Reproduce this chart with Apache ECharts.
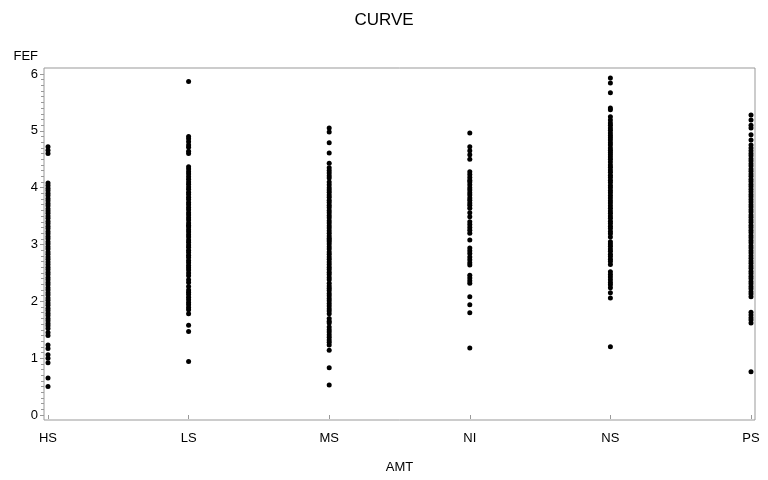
<!DOCTYPE html>
<html>
<head>
<meta charset="utf-8">
<script src="https://cdn.jsdelivr.net/npm/echarts@6/dist/echarts.min.js"></script>
<style>
  html, body { margin: 0; padding: 0; background: #fff; }
  #chart { width: 768px; height: 480px; }
</style>
</head>
<body>
<div id="chart"></div>
<script>
// categories on the x axis (AMT)
const categories = ['HS', 'LS', 'MS', 'NI', 'NS', 'PS'];
const yTicks = [0, 1, 2, 3, 4, 5, 6];

// FEF values, one list per group
const fefHS = [4.72, 4.66, 4.6,
  4.08, 4.04, 3.99, 3.95, 3.9, 3.86, 3.81, 3.77, 3.72, 3.68, 3.63, 3.59, 3.55, 3.5, 3.46, 3.41,
  3.37, 3.32, 3.28, 3.23, 3.19, 3.14, 3.1, 3.05, 3.01, 2.96, 2.92, 2.87, 2.83, 2.78, 2.74, 2.69,
  2.65, 2.6, 2.56, 2.51, 2.47, 2.42, 2.38, 2.33, 2.29, 2.24, 2.2, 2.15, 2.11, 2.06, 2.02, 1.97,
  1.93, 1.88, 1.84, 1.79, 1.75, 1.7, 1.66, 1.61, 1.57, 1.52,
  1.45, 1.4, 1.23, 1.17, 1.06, 1.0, 0.92, 0.65, 0.5];

const fefLS = [5.87,
  4.9, 4.86, 4.81, 4.75, 4.71, 4.64, 4.6,
  4.37, 4.33, 4.28, 4.24, 4.19, 4.15, 4.1, 4.06, 4.01, 3.97, 3.92, 3.88, 3.83, 3.79, 3.74, 3.7,
  3.65, 3.61, 3.56, 3.52, 3.47, 3.43, 3.38, 3.34, 3.31,
  3.26, 3.22, 3.17, 3.13, 3.08, 3.04, 2.99, 2.95, 2.9, 2.86, 2.81, 2.77, 2.72, 2.68, 2.63, 2.59,
  2.55, 2.5, 2.45, 2.38, 2.33,
  2.26, 2.2, 2.16, 2.12, 2.07, 2.03, 1.98, 1.94, 1.89, 1.85, 1.78,
  1.58, 1.47, 0.94];

const fefMS = [5.05, 4.98, 4.79, 4.61, 4.43,
  4.35, 4.3, 4.26, 4.21, 4.17, 4.1, 4.05, 4.0,
  3.96, 3.92, 3.87, 3.83, 3.78, 3.74, 3.69, 3.65, 3.6, 3.56, 3.51, 3.47, 3.42, 3.38, 3.33, 3.29,
  3.24, 3.2, 3.15, 3.11, 3.08,
  3.05, 3.01, 2.96, 2.92, 2.87, 2.83, 2.78, 2.74, 2.69, 2.65, 2.6, 2.56, 2.51, 2.47, 2.42, 2.38,
  2.32, 2.27,
  2.23, 2.19, 2.14, 2.1, 2.05, 2.01, 1.96, 1.92, 1.87, 1.83, 1.78,
  1.7, 1.65, 1.62,
  1.55, 1.5, 1.46, 1.41, 1.37, 1.32, 1.28, 1.23,
  1.14, 0.83, 0.53];

const fefNI = [4.96, 4.72, 4.65, 4.58, 4.5,
  4.28, 4.23, 4.18, 4.13, 4.1, 4.05, 4.0, 3.96, 3.91, 3.87, 3.82, 3.78, 3.73, 3.69, 3.64,
  3.56, 3.49, 3.4, 3.35, 3.3, 3.25, 3.2, 3.08,
  2.94, 2.89, 2.84, 2.78, 2.73, 2.68, 2.64,
  2.46, 2.41, 2.36, 2.32, 2.08, 1.94, 1.8, 1.18];

const fefNS = [5.93, 5.84, 5.67, 5.4, 5.37, 5.25, 5.19,
  5.14, 5.1, 5.05, 5.01, 4.96, 4.92, 4.88, 4.84,
  4.79, 4.75, 4.7, 4.66, 4.62, 4.58, 4.54, 4.5, 4.45,
  4.4, 4.36, 4.31, 4.27, 4.22, 4.18, 4.13, 4.09, 4.04, 4.0, 3.95, 3.91, 3.86, 3.82, 3.77, 3.73,
  3.68, 3.64, 3.59, 3.55, 3.5, 3.46, 3.41, 3.37, 3.32, 3.28, 3.23, 3.19,
  3.13, 3.05,
  3.01, 2.97, 2.92, 2.88, 2.83, 2.79, 2.74, 2.7, 2.65,
  2.52, 2.47, 2.43, 2.38, 2.33, 2.29, 2.24,
  2.15, 2.06, 1.2];

const fefPS = [5.28, 5.19, 5.1, 5.05, 4.93, 4.84, 4.75, 4.7, 4.65,
  4.6, 4.56, 4.51, 4.47, 4.42, 4.38, 4.33, 4.29, 4.24, 4.2, 4.15, 4.11, 4.06, 4.02, 3.97, 3.93,
  3.88, 3.84, 3.79, 3.75, 3.7, 3.66, 3.61, 3.57, 3.52, 3.48, 3.43, 3.39, 3.34, 3.3, 3.25, 3.21,
  3.16, 3.12, 3.07, 3.03, 2.98, 2.94, 2.89, 2.85, 2.8, 2.76, 2.71, 2.67, 2.62, 2.58, 2.53, 2.49,
  2.44, 2.4, 2.35, 2.31, 2.26, 2.22, 2.17, 2.13, 2.08,
  1.81, 1.76, 1.71, 1.67, 1.62, 0.76];

const groups = [fefHS, fefLS, fefMS, fefNI, fefNS, fefPS];

const points = [];
groups.forEach((vals, i) => {
  vals.forEach(v => points.push([categories[i], v]));
});

const font = 'Liberation Sans, Arial, sans-serif';
const frameColor = '#999999';

const chart = echarts.init(document.getElementById('chart'), null, { renderer: 'canvas' });

chart.setOption({
  backgroundColor: '#fff',
  animation: false,
  title: {
    text: 'CURVE',
    left: 'center',
    top: 7,
    textStyle: { fontFamily: font, fontSize: 17, fontWeight: 'normal', color: '#000' }
  },
  grid: [
    // data area
    { left: 48, right: 17, top: 74, bottom: 65, show: false },
    // outer frame
    { left: 44, right: 13, top: 68, bottom: 60, show: true, borderColor: frameColor, borderWidth: 1, backgroundColor: 'transparent' }
  ],
  xAxis: [
    {
      gridIndex: 0,
      type: 'category',
      data: categories,
      boundaryGap: false,
      offset: 5,
      name: 'AMT',
      nameLocation: 'middle',
      nameGap: 41,
      nameTextStyle: { fontFamily: font, fontSize: 13, color: '#000' },
      axisLine: { show: false },
      axisTick: { show: true, length: 4, lineStyle: { color: frameColor } },
      axisLabel: { fontFamily: font, fontSize: 13, color: '#000', margin: 12, interval: 0 },
      splitLine: { show: false }
    },
    { gridIndex: 1, type: 'value', show: false, min: 0, max: 1 }
  ],
  yAxis: [
    {
      gridIndex: 0,
      type: 'value',
      min: 0,
      max: 6,
      interval: 1,
      offset: 4,
      name: 'FEF',
      nameLocation: 'end',
      nameGap: 11,
      nameTextStyle: { fontFamily: font, fontSize: 13, color: '#000', align: 'right', padding: [0, 6, 0, 0] },
      axisLine: { show: false },
      axisTick: { show: true, length: 4, lineStyle: { color: frameColor } },
      minorTick: { show: true, splitNumber: 10, length: 3, lineStyle: { color: frameColor } },
      axisLabel: {
        fontFamily: font, fontSize: 13, color: '#000', margin: 6,
        formatter: v => (yTicks.indexOf(v) >= 0 ? String(v) : '')
      },
      splitLine: { show: false }
    },
    { gridIndex: 1, type: 'value', show: false, min: 0, max: 1 }
  ],
  series: [
    {
      name: 'FEF',
      type: 'scatter',
      xAxisIndex: 0,
      yAxisIndex: 0,
      data: points,
      symbol: 'circle',
      symbolSize: 5,
      itemStyle: { color: '#000', opacity: 1 }
    }
  ]
});
</script>
</body>
</html>
